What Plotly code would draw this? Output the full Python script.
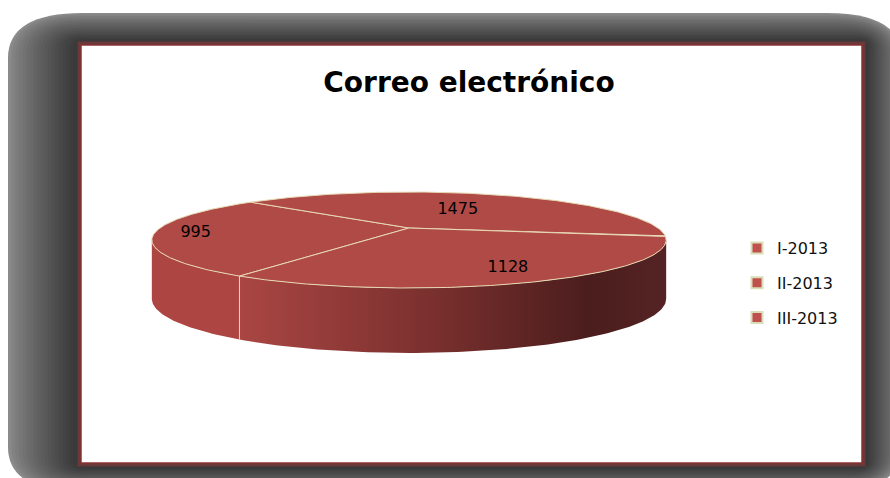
import numpy as np
import plotly.graph_objects as go

# ---------------- data ----------------
title_text = "Correo electrónico"
categories = ["I-2013", "II-2013", "III-2013"]
values = [995, 1475, 1128]

# ---------------- style / geometry ----------------
W, H = 890, 478
top_color = "#B04A46"
wall_colors = ["#AD4642", "#A84542", "#A84542"]
wall_gradient = [[0, "#AA4643"], [0.45, "#7A302E"], [0.82, "#4B1D1D"], [1, "#552323"]]
edge_color = "#E6D9B4"
legend_color = "#C0504D"

cx, cy, A, B, k = 409.0, 228.0, 249.0, 45.0, 0.25     # top face projection
depth, B2 = 57.5, 50.6                                 # bottom face projection
start_angle = 237.5                                     # degrees, slices go clockwise
label_r = [0.84, 0.5, 0.8]


def proj(theta_deg, r=1.0, bottom=False):
    th = np.radians(theta_deg)
    u = r * np.cos(th)
    v = -r * np.sin(th)
    s = 1.0 - k * v
    if bottom:
        return cx + A * u / s, cy + depth + B2 * v / s
    return cx + A * u / s, cy + B * v / s


total = float(sum(values))
spans = [360.0 * v / total for v in values]
starts = [start_angle - sum(spans[:i]) for i in range(len(values))]
ends = [starts[i] - spans[i] for i in range(len(values))]

fig = go.Figure()

# ---------------- side walls ----------------
sil = np.degrees(np.arcsin(k))
w_lo, w_hi = 180.0 + sil, 360.0 - sil
for i in range(len(values)):
    lo, hi = ends[i], starts[i]
    for shift in (-720, -360, 0, 360, 720):
        a, b = max(lo + shift, w_lo), min(hi + shift, w_hi)
        if b - a > 0.01:
            th = np.linspace(a, b, 120)
            xt, yt = proj(th)
            xb, yb = proj(th[::-1], bottom=True)
            xs = np.concatenate([xt, xb, xt[:1]])
            ys = np.concatenate([yt, yb, yt[:1]])
            kw = dict(fillcolor=wall_colors[i])
            if (b - a) > 60:
                kw = dict(fillgradient=dict(type="horizontal", colorscale=wall_gradient))
            fig.add_trace(go.Scatter(x=xs, y=ys, mode="lines", fill="toself",
                                     line=dict(width=0, color=wall_colors[i]),
                                     hoverinfo="skip", showlegend=False, **kw))
            # vertical boundary edges inside the visible wall
            for edge in (a, b):
                if w_lo + 0.5 < edge < w_hi - 0.5:
                    x1, y1 = proj(edge)
                    x2, y2 = proj(edge, bottom=True)
                    fig.add_trace(go.Scatter(x=[x1, x2], y=[y1, y2], mode="lines",
                                             line=dict(color=edge_color, width=1),
                                             hoverinfo="skip", showlegend=False))

# ---------------- top faces ----------------
for i in range(len(values)):
    th = np.linspace(starts[i], ends[i], 160)
    xa, ya = proj(th)
    xs = np.concatenate([[cx], xa, [cx]])
    ys = np.concatenate([[cy], ya, [cy]])
    fig.add_trace(go.Scatter(x=xs, y=ys, mode="lines", fill="toself",
                             fillcolor=top_color,
                             line=dict(color=edge_color, width=1),
                             hoverinfo="skip", showlegend=False))

# ---------------- data labels ----------------
lx, ly = [], []
for i in range(len(values)):
    mid = (starts[i] + ends[i]) / 2.0
    x, y = proj(mid, r=label_r[i])
    lx.append(x)
    ly.append(y)
fig.add_trace(go.Scatter(x=lx, y=ly, mode="text", text=[str(v) for v in values],
                         textposition="middle center",
                         textfont=dict(family="DejaVu Sans", size=16, color="#000000"),
                         hoverinfo="skip", showlegend=False))

# ---------------- legend entries ----------------
for i, c in enumerate(categories):
    fig.add_trace(go.Scatter(x=[None], y=[None], mode="markers", name=c,
                             legendgroup=c,
                             marker=dict(symbol="square", size=11, color=legend_color,
                                         line=dict(color="#D9DDB8", width=2))))


# ---------------- frame / shadow ----------------
def rrect(x0, y0, x1, y1, rx, ry):
    return (f"M{x0+rx},{y0} L{x1-rx},{y0} Q{x1},{y0} {x1},{y0+ry} "
            f"L{x1},{y1-ry} Q{x1},{y1} {x1-rx},{y1} L{x0+rx},{y1} "
            f"Q{x0},{y1} {x0},{y1-ry} L{x0},{y0+ry} Q{x0},{y0} {x0+rx},{y0} Z")


shapes = []
outer = np.array([8.0, 13.0, 902.0, 492.0])
inner = np.array([77.0, 41.0, 866.0, 467.0])
N = 20
for j in range(N):
    t = j / (N - 1)
    r = outer * (1 - t) + inner * t
    rx = 75 * (1 - t) + 6 * t
    ry = 45 * (1 - t) + 6 * t
    g = int(round(138 - 84 * t ** 0.8))
    shapes.append(dict(type="path", xref="x", yref="y", layer="below",
                       path=rrect(*r, rx, ry),
                       fillcolor=f"rgb({g},{g},{g})", line=dict(width=0)))
# reddish glow + white panel
shapes.append(dict(type="rect", xref="x", yref="y", layer="below",
                   x0=79, y0=43, x1=864, y1=465,
                   fillcolor="rgba(0,0,0,0)", line=dict(color="rgba(160,60,60,0.5)", width=3)))
shapes.append(dict(type="rect", xref="x", yref="y", layer="below",
                   x0=81, y0=45, x1=862, y1=463,
                   fillcolor="#FFFFFF", line=dict(color="#8E3434", width=1.5)))

fig.update_layout(
    width=W, height=H,
    margin=dict(l=0, r=0, t=0, b=0),
    paper_bgcolor="#FFFFFF", plot_bgcolor="rgba(0,0,0,0)",
    xaxis=dict(range=[0, W], visible=False, fixedrange=True),
    yaxis=dict(range=[H, 0], visible=False, fixedrange=True),
    shapes=shapes,
    title=dict(text=title_text, x=469 / W, y=1 - 82 / H, xanchor="center", yanchor="middle",
               font=dict(family="DejaVu Sans", size=28, color="#000000", weight="bold")),
    legend=dict(x=737 / W, y=1 - 231 / H, xanchor="left", yanchor="top",
                bgcolor="rgba(0,0,0,0)", tracegroupgap=11, itemwidth=30,
                font=dict(family="DejaVu Sans", size=16, color="#111111")),
    showlegend=True,
)

fig.write_html("out.html", config={"displayModeBar": False},
               post_script="document.body.style.margin='0';")
